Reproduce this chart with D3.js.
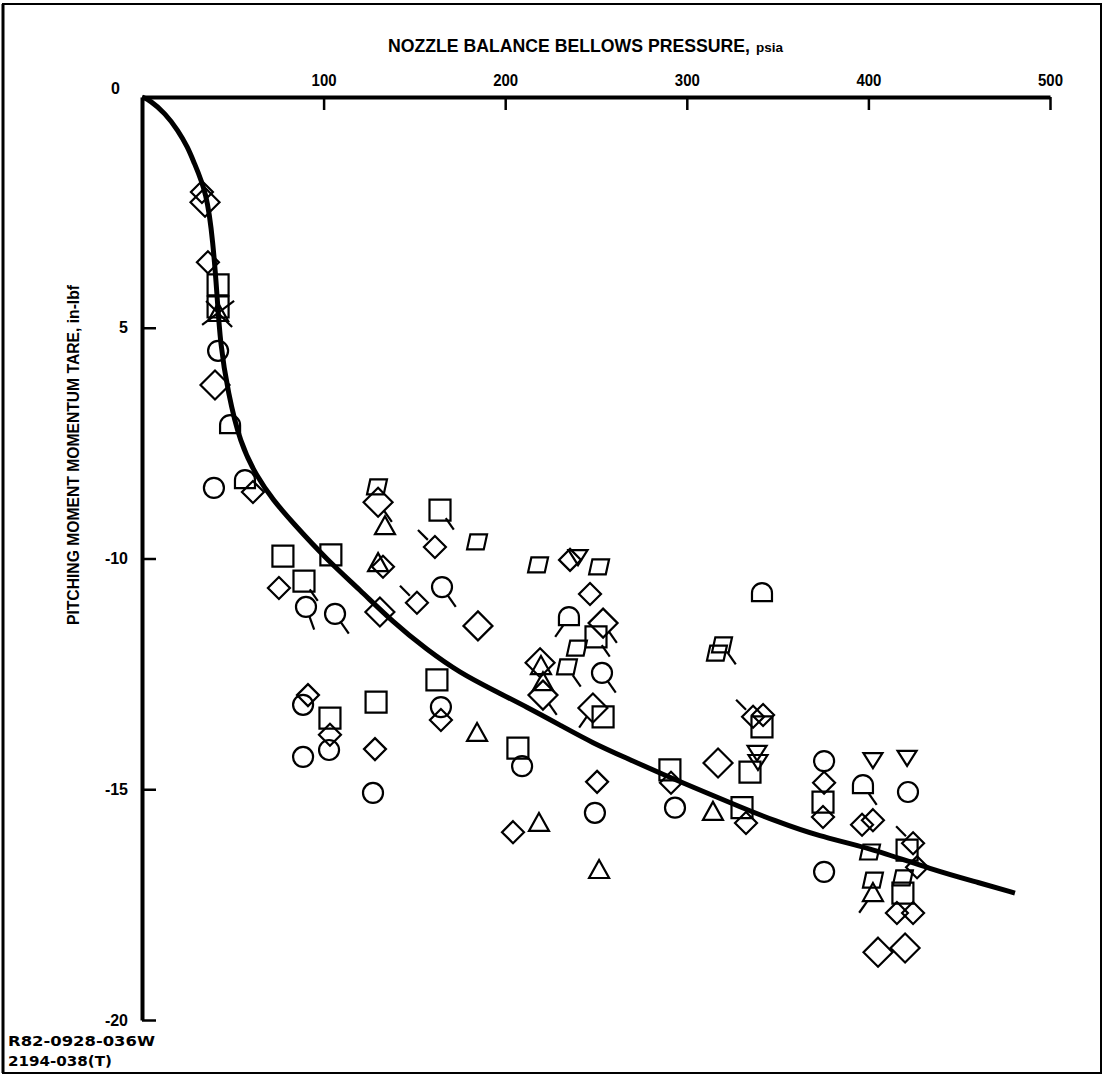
<!DOCTYPE html>
<html><head><meta charset="utf-8">
<script src="https://cdn.jsdelivr.net/npm/d3@7"></script>
<style>body{margin:0;background:#fff} svg{display:block}</style>
</head><body><svg id="c" width="1105" height="1076"></svg>
<script>
// ---- data ----
const xTickValues = [100, 200, 300, 400, 500];
const xTickLabels = ["100", "200", "300", "400", "500"];
const yTickValues = [0, -5, -10, -15, -20];
const yTickLabels = ["0", "5", "-10", "-15", "-20"];
const xTitle = "NOZZLE BALANCE BELLOWS PRESSURE,";
const xTitleUnit = "psia";
const yTitle = "PITCHING MOMENT MOMENTUM TARE, in-lbf";
const footnotes = ["R82-0928-036W", "2194-038(T)"];

// [pressure, tare, flag]
const circles = [[41.9,-5.5,""],[39.6,-8.47,""],[90.3,-11.05,"S"],[106.3,-11.2,"SE"],[88.7,-13.17,""],[103,-14.15,""],[88.7,-14.3,""],[127.2,-15.08,""],[165.2,-10.62,"SE"],[164.6,-13.22,""],[209.3,-14.5,""],[253.3,-12.48,"SE"],[249.4,-15.51,""],[293.5,-15.4,""],[375.6,-14.39,""],[421.8,-15.06,""],[375.6,-16.79,""]];
const squares = [[41.9,-4.07,""],[41.9,-4.55,""],[77.6,-9.95,""],[104,-9.92,""],[89.2,-10.49,"SE"],[164.1,-8.95,"SE"],[103.5,-13.46,""],[128.9,-13.11,""],[162.4,-12.63,""],[207,-14.11,""],[250,-11.7,"SE"],[253.9,-13.43,""],[290.7,-14.58,""],[330.4,-15.4,""],[334.8,-14.63,""],[341.4,-13.65,""],[375,-15.28,""],[421.3,-16.32,""],[419,-17.25,""]];
const diamonds = [[33,-2.06,""],[36.3,-3.58,""],[61.1,-8.56,""],[75.4,-10.64,""],[91.4,-12.96,""],[103.5,-13.82,""],[128.3,-14.13,""],[132.7,-10.18,""],[161.3,-9.75,"NW"],[151.4,-10.96,"NW"],[164.6,-13.5,""],[204.3,-15.93,""],[235.7,-10.03,""],[246.7,-10.77,""],[250.6,-14.84,""],[291.3,-14.86,""],[332.6,-15.73,""],[336.5,-13.43,"NW"],[342,-13.39,""],[375.6,-14.86,""],[375,-15.6,""],[396.5,-15.77,""],[402.5,-15.67,""],[424.6,-16.17,"NW"],[426.8,-16.69,""],[415.7,-17.68,""],[424.6,-17.68,""]];
const diamondsLarge = [[34.7,-2.28,""],[40.2,-6.24,""],[130,-8.78,"SE"],[131,-11.16,""],[185,-11.46,""],[253.9,-11.4,"SE"],[219.2,-12.26,""],[220.8,-12.96,"SE"],[248.3,-13.24,"SW"],[317.2,-14.43,""],[405.3,-18.53,""],[420.2,-18.44,""]];
const triangles = [[41.9,-4.68,"X"],[133.8,-9.3,""],[130,-10.1,""],[184.5,-13.78,""],[219.7,-12.33,""],[220.8,-12.68,""],[218.6,-15.73,""],[251.7,-16.75,""],[314.4,-15.49,""],[402.5,-17.25,"SW"]];
const trianglesDown = [[240.1,-9.97,""],[338.7,-14.21,""],[339.2,-14.41,""],[402.5,-14.37,""],[421.3,-14.32,""]];
const halfCircles = [[48.5,-7.11,""],[56.7,-8.3,""],[235.1,-11.27,"SW"],[341.4,-10.75,""],[397,-14.91,"SE"]];
const skewedSquares = [[129.4,-8.45,""],[184.5,-9.64,""],[218.1,-10.14,""],[251.7,-10.18,""],[239.5,-11.94,""],[234,-12.35,"SE"],[319.4,-11.87,"SE"],[316.6,-12.05,""],[400.9,-16.36,""],[402.5,-16.97,""],[419,-16.92,""]];

// faired curve
const curveX = [0,4.4,12.7,19.8,25.3,28.1,35.8,39.1,41.3,43,47.4,54,63.3,72.1,83.1,101.9,120,138.2,156.9,175.1,193.3,212,230.2,248.3,267.1,285.2,311.1,329.3,347.5,373.3,399.2,435.6,461.5,480.7];
const curveY = [0,-0.07,-0.35,-0.72,-1.1,-1.37,-2.08,-3.16,-4.25,-5.33,-6.41,-7.5,-8.23,-8.73,-9.23,-10.03,-10.68,-11.38,-11.98,-12.48,-12.85,-13.22,-13.61,-14,-14.33,-14.65,-15.08,-15.38,-15.67,-16.03,-16.25,-16.75,-17.03,-17.25];

// ---- drawing ----
const svg = d3.select("#c");
const x = d3.scaleLinear().domain([0, 500]).range([142, 1050]);
const y = d3.scaleLinear().domain([0, -20]).range([97, 1020]);
const FONT = "'Liberation Sans',Arial,sans-serif";

// frame
svg.append("rect").attr("x", 3).attr("y", 4).attr("width", 1098).attr("height", 1069)
  .attr("fill", "none").attr("stroke", "#000").attr("stroke-width", 2);
svg.append("line").attr("x1", 3).attr("y1", 4).attr("x2", 3).attr("y2", 1073)
  .attr("stroke", "#000").attr("stroke-width", 3);

// x axis (top)
const xAxis = d3.axisTop(x).tickValues(xTickValues)
  .tickFormat((d, i) => xTickLabels[i]).tickSizeInner(-13).tickSizeOuter(0).tickPadding(11);
const gx = svg.append("g").attr("transform", `translate(0,${y(0)})`).call(xAxis);
gx.select(".domain").attr("stroke-width", 4);
gx.selectAll(".tick line").attr("stroke-width", 2.5);
gx.selectAll("text").attr("font-family", FONT).attr("font-weight", "bold").attr("font-size", 17)
  .attr("fill", "#000").attr("textLength", 25).attr("lengthAdjust", "spacingAndGlyphs");

// y axis (left)
const yAxis = d3.axisLeft(y).tickValues(yTickValues)
  .tickFormat((d, i) => yTickLabels[i]).tickSizeInner(-14).tickSizeOuter(0).tickPadding(14);
const gy = svg.append("g").attr("transform", `translate(${x(0)},0)`).call(yAxis);
gy.select(".domain").attr("stroke-width", 4);
gy.selectAll(".tick line").attr("stroke-width", 2.5);
gy.selectAll("text").attr("font-family", FONT).attr("font-weight", "bold").attr("font-size", 16).attr("fill", "#000");
gy.selectAll(".tick").filter(d => d === 0).select("line").remove();
gy.selectAll(".tick").filter(d => d === 0).select("text").attr("dy", "-0.2em").attr("x", -22);

// titles
svg.append("text").attr("x", 388).attr("y", 52).attr("text-anchor", "start")
  .attr("font-family", FONT).attr("font-weight", "bold").attr("font-size", 18)
  .attr("textLength", 362).attr("lengthAdjust", "spacingAndGlyphs").text(xTitle);
svg.append("text").attr("x", 756).attr("y", 52).attr("text-anchor", "start")
  .attr("font-family", FONT).attr("font-weight", "bold").attr("font-size", 13)
  .attr("textLength", 27).attr("lengthAdjust", "spacingAndGlyphs").text(xTitleUnit);

svg.append("text").attr("transform", "translate(79,455) rotate(-90)").attr("text-anchor", "middle")
  .attr("font-family", FONT).attr("font-weight", "bold").attr("font-size", 17)
  .attr("textLength", 340).attr("lengthAdjust", "spacingAndGlyphs").text(yTitle);

const footLen = [147, 104];
footnotes.forEach((s, i) => {
  svg.append("text").attr("x", 8).attr("y", 1046 + i * 20)
    .attr("font-family", "'DejaVu Sans',sans-serif").attr("font-weight", "bold").attr("font-size", 14)
    .attr("textLength", footLen[i]).attr("lengthAdjust", "spacingAndGlyphs").text(s);
});

// curve
const line = d3.line().x(d => x(d[0])).y(d => y(d[1])).curve(d3.curveBasis);
svg.append("path").datum(curveX.map((v, i) => [v, curveY[i]]))
  .attr("d", line).attr("fill", "none").attr("stroke", "#000").attr("stroke-width", 5);

// symbols
const shapes = {
  circle: "M10,0A10,10 0 1,1 -10,0A10,10 0 1,1 10,0Z",
  square: "M-10.5,-10.5H10.5V10.5H-10.5Z",
  diamond: "M0,-11L11,0L0,11L-11,0Z",
  diamondL: "M0,-14.5L14.5,0L0,14.5L-14.5,0Z",
  triangle: "M0,-10L10,8L-10,8Z",
  triangleDown: "M-9.5,-7H9.5L0,8Z",
  half: "M-10,8V0A10,10 0 0,1 10,0V8Z",
  skew: "M-10,7.5H6.7L10,-7.5H-6.7Z"
};
const flagAngles = { SE: 55, S: 70, SW: 125, NW: 225, NE: -45 };
const groups = [
  [circles, "circle"], [squares, "square"], [diamonds, "diamond"], [diamondsLarge, "diamondL"],
  [triangles, "triangle"], [trianglesDown, "triangleDown"], [halfCircles, "half"], [skewedSquares, "skew"]
];
const mk = svg.append("g").attr("fill", "none").attr("stroke", "#000").attr("stroke-width", 2.2);
groups.forEach(([data, shape]) => {
  const g = mk.selectAll(null).data(data).enter().append("g")
    .attr("transform", d => `translate(${x(d[0])},${y(d[1])})`);
  g.append("path").attr("d", shapes[shape]);
  g.filter(d => d[2] && d[2] !== "X").append("line")
    .attr("x1", d => 10 * Math.cos(flagAngles[d[2]] * Math.PI / 180))
    .attr("y1", d => 10 * Math.sin(flagAngles[d[2]] * Math.PI / 180))
    .attr("x2", d => 24 * Math.cos(flagAngles[d[2]] * Math.PI / 180))
    .attr("y2", d => 24 * Math.sin(flagAngles[d[2]] * Math.PI / 180));
  g.filter(d => d[2] === "X").each(function () {
    const s = d3.select(this);
    s.append("line").attr("x1", -16).attr("y1", 12).attr("x2", 16).attr("y2", -12);
    s.append("line").attr("x1", -12).attr("y1", -12).attr("x2", 14).attr("y2", 14);
  });
});
</script>
</body></html>
